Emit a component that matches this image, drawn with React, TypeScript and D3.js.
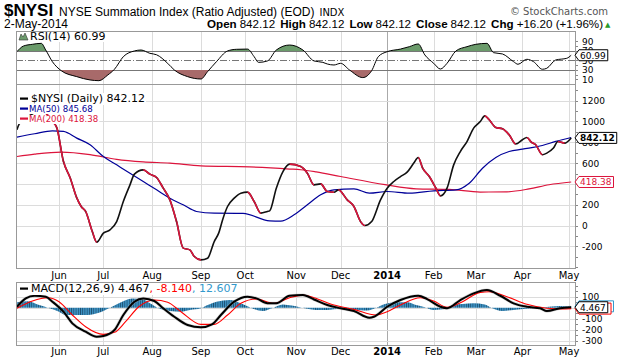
import React, { useEffect, useRef } from "react";
import * as d3 from "d3";

const width = 620,
  height = 360;

// trading calendar
const firstDay = "2013-05-06";
const lastDay = "2014-05-02";
const holidays = ["2013-05-27", "2013-07-04", "2013-09-02", "2013-11-28", "2013-12-25", "2014-01-01", "2014-01-20", "2014-02-17", "2014-04-18"];
const monthLabels = ["Jun", "Jul", "Aug", "Sep", "Oct", "Nov", "Dec", "2014", "Feb", "Mar", "Apr", "May"];

// $NYSI close (colored: black up, red down)
const nysiDates = ["2013-05-06", "2013-05-07", "2013-05-14", "2013-05-21", "2013-05-23", "2013-05-29", "2013-05-31", "2013-06-05", "2013-06-10", "2013-06-13", "2013-06-17", "2013-06-19", "2013-06-24", "2013-06-26", "2013-07-01", "2013-07-05", "2013-07-10", "2013-07-15", "2013-07-18", "2013-07-22", "2013-07-26", "2013-07-31", "2013-08-05", "2013-08-08", "2013-08-13", "2013-08-16", "2013-08-21", "2013-08-26", "2013-08-28", "2013-09-03", "2013-09-06", "2013-09-11", "2013-09-13", "2013-09-17", "2013-09-19", "2013-09-24", "2013-09-27", "2013-10-02", "2013-10-07", "2013-10-10", "2013-10-15", "2013-10-16", "2013-10-21", "2013-10-24", "2013-10-29", "2013-11-05", "2013-11-08", "2013-11-13", "2013-11-18", "2013-11-21", "2013-11-26", "2013-11-29", "2013-12-05", "2013-12-10", "2013-12-13", "2013-12-17", "2013-12-20", "2013-12-27", "2014-01-02", "2014-01-07", "2014-01-10", "2014-01-15", "2014-01-21", "2014-01-23", "2014-01-27", "2014-01-30", "2014-02-04", "2014-02-06", "2014-02-11", "2014-02-14", "2014-02-20", "2014-02-25", "2014-02-28", "2014-03-05", "2014-03-07", "2014-03-11", "2014-03-14", "2014-03-19", "2014-03-24", "2014-03-27", "2014-04-01", "2014-04-03", "2014-04-07", "2014-04-09", "2014-04-14", "2014-04-16", "2014-04-22", "2014-04-24", "2014-04-29", "2014-05-02"];
const nysiValues = [920, 975, 1060, 1100, 1080, 1000, 940, 615, 460, 266, 183, 135, -58, -160, -73, -41, 38, 231, 391, 494, 535, 494, 462, 359, 247, 38, -217, -234, -298, -330, -314, -154, -73, 71, 183, 263, 311, 321, 231, 119, 135, 141, 359, 519, 590, 567, 503, 391, 400, 327, 320, 343, 247, 183, 38, 0, 38, 247, 359, 423, 470, 513, 600, 654, 551, 471, 359, 285, 359, 583, 711, 807, 936, 1000, 1054, 1016, 942, 930, 872, 783, 824, 846, 802, 776, 680, 696, 744, 808, 792, 842.12];

const ma50Dates = ["2013-05-06", "2013-05-16", "2013-05-29", "2013-06-05", "2013-06-13", "2013-06-21", "2013-07-01", "2013-07-10", "2013-07-18", "2013-07-26", "2013-08-05", "2013-08-13", "2013-08-21", "2013-08-29", "2013-09-11", "2013-09-30", "2013-10-16", "2013-10-23", "2013-10-31", "2013-11-08", "2013-11-18", "2013-11-26", "2013-12-10", "2013-12-19", "2014-01-02", "2014-01-16", "2014-02-03", "2014-02-18", "2014-02-26", "2014-03-06", "2014-03-14", "2014-03-24", "2014-04-01", "2014-04-14", "2014-04-23", "2014-05-02"];
const ma50Values = [850, 882, 910, 904, 840, 776, 663, 583, 503, 423, 343, 263, 199, 135, 119, 117, 45, 43, 103, 199, 295, 343, 353, 311, 327, 311, 333, 343, 407, 551, 654, 711, 734, 769, 808, 845.68];

const ma200Dates = ["2013-05-06", "2013-05-16", "2013-06-04", "2013-06-21", "2013-07-10", "2013-07-26", "2013-08-13", "2013-09-03", "2013-10-03", "2013-10-29", "2013-11-05", "2013-11-14", "2013-12-02", "2013-12-31", "2014-01-22", "2014-02-12", "2014-03-05", "2014-03-21", "2014-04-04", "2014-04-17", "2014-05-02"];
const ma200Values = [663, 686, 706, 682, 636, 612, 600, 573, 563, 543, 536, 515, 471, 393, 353, 347, 322, 324, 352, 392, 418.38];

const rsiDates = ["2013-05-06", "2013-05-09", "2013-05-15", "2013-05-21", "2013-05-23", "2013-05-29", "2013-06-04", "2013-06-13", "2013-06-21", "2013-06-27", "2013-07-03", "2013-07-09", "2013-07-15", "2013-07-22", "2013-07-25", "2013-07-31", "2013-08-05", "2013-08-12", "2013-08-15", "2013-08-23", "2013-09-03", "2013-09-06", "2013-09-12", "2013-09-19", "2013-09-25", "2013-10-02", "2013-10-07", "2013-10-09", "2013-10-15", "2013-10-21", "2013-10-29", "2013-11-06", "2013-11-13", "2013-11-19", "2013-11-21", "2013-11-26", "2013-12-02", "2013-12-06", "2013-12-16", "2013-12-20", "2013-12-26", "2014-01-02", "2014-01-10", "2014-01-16", "2014-01-23", "2014-01-28", "2014-02-03", "2014-02-06", "2014-02-11", "2014-02-18", "2014-02-25", "2014-03-03", "2014-03-10", "2014-03-13", "2014-03-19", "2014-03-26", "2014-03-28", "2014-04-03", "2014-04-08", "2014-04-14", "2014-04-16", "2014-04-23", "2014-04-30", "2014-05-02"];
const rsiValues = [68.5, 80.5, 84, 86, 72, 47.5, 28.5, 16, 9, 7.5, 19.5, 31.5, 58, 70, 72, 65, 62, 44, 30, 16, 11, 26.5, 47.5, 70, 73.5, 74, 58, 46, 49, 72, 82.5, 72, 49, 46, 42.6, 40.5, 44, 30, 14, 28.5, 58, 68.5, 74, 79, 84.7, 61.6, 44, 32, 44, 70, 79, 84, 86, 66.4, 63.7, 47.5, 42, 52.5, 47.5, 31.5, 33.6, 51, 54.6, 60.99];

const macdDates = ["2013-05-06", "2013-05-10", "2013-05-16", "2013-05-23", "2013-05-29", "2013-06-05", "2013-06-11", "2013-06-19", "2013-06-26", "2013-07-01", "2013-07-09", "2013-07-15", "2013-07-22", "2013-07-26", "2013-08-02", "2013-08-08", "2013-08-15", "2013-08-23", "2013-09-03", "2013-09-10", "2013-09-16", "2013-09-24", "2013-10-02", "2013-10-08", "2013-10-15", "2013-10-21", "2013-10-29", "2013-11-06", "2013-11-13", "2013-11-21", "2013-12-02", "2013-12-10", "2013-12-19", "2013-12-23", "2014-01-02", "2014-01-10", "2014-01-23", "2014-01-29", "2014-02-06", "2014-02-11", "2014-02-20", "2014-02-28", "2014-03-10", "2014-03-18", "2014-03-26", "2014-04-03", "2014-04-11", "2014-04-16", "2014-04-25", "2014-05-02"];
const macdValues = [9, 85, 109, 100, 55, -36, -142, -218, -264, -257, -203, -66, 55, 85, 61, -5, -82, -157, -178, -151, -66, 55, 100, 85, 40, 40, 109, 115, 75, 25, -5, -30, -91, -82, 9, 70, 109, 79, 9, -5, 70, 131, 161, 109, 40, 9, -5, -30, -5, 4.467];

const signalDates = ["2013-05-06", "2013-05-15", "2013-05-24", "2013-06-03", "2013-06-11", "2013-06-19", "2013-07-01", "2013-07-09", "2013-07-16", "2013-07-24", "2013-08-02", "2013-08-12", "2013-08-20", "2013-09-03", "2013-09-11", "2013-09-19", "2013-09-27", "2013-10-08", "2013-10-18", "2013-10-29", "2013-11-06", "2013-11-13", "2013-11-26", "2013-12-10", "2013-12-24", "2014-01-02", "2014-01-10", "2014-01-24", "2014-02-03", "2014-02-11", "2014-02-21", "2014-03-05", "2014-03-11", "2014-03-21", "2014-04-03", "2014-04-16", "2014-04-28", "2014-05-02"];
const signalValues = [-5, 61, 91, 55, -66, -173, -242, -224, -127, 9, 70, 49, -36, -151, -151, -66, 40, 79, 40, 91, 115, 91, 25, -15, -66, -36, 25, 91, 61, 4, 55, 140, 145, 100, 31, -5, -12, -8.14];

const histDates = ["2013-05-06", "2013-05-13", "2013-05-20", "2013-05-24", "2013-06-03", "2013-06-06", "2013-06-13", "2013-06-20", "2013-06-27", "2013-07-05", "2013-07-11", "2013-07-19", "2013-07-26", "2013-07-31", "2013-08-06", "2013-08-13", "2013-08-20", "2013-08-26", "2013-09-03", "2013-09-06", "2013-09-12", "2013-09-20", "2013-09-27", "2013-10-04", "2013-10-11", "2013-10-17", "2013-10-24", "2013-10-30", "2013-11-08", "2013-11-14", "2013-11-21", "2013-12-02", "2013-12-10", "2013-12-18", "2013-12-24", "2013-12-31", "2014-01-08", "2014-01-15", "2014-01-22", "2014-01-28", "2014-02-03", "2014-02-11", "2014-02-14", "2014-02-21", "2014-02-28", "2014-03-07", "2014-03-12", "2014-03-19", "2014-03-26", "2014-04-03", "2014-04-11", "2014-04-17", "2014-04-25", "2014-05-02"];
const histValues = [50, 60, 24, 0, -36, -66, -66, -66, -45, 0, 40, 85, 75, 40, -5, -30, -36, -20, -5, 24, 55, 70, 40, -5, -30, -5, 30, 20, -10, -20, -20, -10, -15, -25, 0, 35, 50, 50, 25, 5, -20, -10, 25, 35, 40, 30, 0, -30, -20, -10, 0, 9, 15, 12.607];

// axis labels (400 and 0 sit under the value tags, so they are not shown)
const priceTicks = [1200, 1000, 800, 600, 400, 200, 0, -200];
const priceLabels = [1200, 1000, 800, 600, 200, 0, -200];
const rsiTicks = [90, 70, 50, 30, 10];
const macdTicks = [100, 0, -100, -200, -300];
const macdLabels = [100, -100, -200, -300];

const quote = { open: "842.12", high: "842.12", low: "842.12", close: "842.12", chg: "+16.20 (+1.96%)" };

const L = 16,
  R = 576;
const rsiP = { top: 31, bottom: 84 };
const mainP = { top: 84, bottom: 268 };
const macdP = { top: 282, bottom: 345 };

const NAVY = "#000099",
  CRIMSON = "#dc143c",
  GRID = "#dcdcdc",
  BORDER = "#999";
const VF = "'DejaVu Sans', Verdana, sans-serif";
const AF = "'Liberation Sans', Arial, sans-serif";

function App() {
  const ref = useRef<SVGSVGElement>(null);

  useEffect(() => {
    const svg = d3.select(ref.current);
    svg.selectAll("*").remove();

    const fmt = d3.utcFormat("%Y-%m-%d");
    const parse = d3.utcParse("%Y-%m-%d");
    const days = d3
      .utcDays(parse(firstDay)!, d3.utcDay.offset(parse(lastDay)!, 1))
      .filter(d => d.getUTCDay() !== 0 && d.getUTCDay() !== 6 && !holidays.includes(fmt(d)));
    const dayIndex = new Map(days.map((d, i) => [fmt(d), i]));
    const idx = (s: string) => {
      if (dayIndex.has(s)) return dayIndex.get(s)!;
      return d3.bisector((d: Date) => d).left(days, parse(s)!);
    };
    const series = (ds: string[], vs: number[]) => ds.map((d, k) => ({ i: idx(d), v: vs[k] }));

    const monthStarts = days
      .map((d, i) => ({ d, i }))
      .filter(({ d, i }) => i > 0 && d.getUTCMonth() !== days[i - 1].getUTCMonth())
      .map(({ i }, k) => ({ i, label: monthLabels[k] }));

    const x = d3.scaleLinear().domain([0, days.length - 1]).range([16.9, 571.2]);
    const yMain = d3.scaleLinear().domain([-408, 1360]).range([mainP.bottom, mainP.top]);
    const yRsi = d3.scaleLinear().domain([0.5, 112]).range([rsiP.bottom, rsiP.top]);
    const yMacd = d3.scaleLinear().domain([-339, 234]).range([macdP.bottom, macdP.top]);

    svg.append("rect").attr("width", width).attr("height", height).attr("fill", "#fff");
    const defs = svg.append("defs");

    // ---------- header ----------
    const head = svg.append("g");
    head.append("text").attr("x", 4).attr("y", 16).attr("font-family", AF).attr("font-weight", "bold").attr("font-size", 17).attr("fill", "#000").text("$NYSI");
    const t1 = head.append("text").attr("x", 59).attr("y", 16).attr("font-family", AF).attr("font-size", 12).attr("fill", "#000");
    t1.append("tspan").text("NYSE Summation Index (Ratio Adjusted) (EOD)");
    t1.append("tspan").attr("dx", 5).attr("font-family", VF).attr("font-size", 10).text("INDX");
    head.append("text").attr("x", 608).attr("y", 15).attr("text-anchor", "end").attr("font-family", VF).attr("font-size", 10).attr("fill", "#555").text("\u00a9 StockCharts.com");
    head.append("text").attr("x", 4).attr("y", 28).attr("font-family", AF).attr("font-size", 12).attr("fill", "#000").text("2-May-2014");
    const q = head.append("text").attr("x", 603).attr("y", 28).attr("text-anchor", "end").attr("font-family", AF).attr("font-size", 11.6).attr("fill", "#000");
    [["Open", quote.open], ["High", quote.high], ["Low", quote.low], ["Close", quote.close], ["Chg", quote.chg]].forEach(([k, v], n) => {
      q.append("tspan").attr("font-weight", "bold").attr("dx", n ? 5 : 0).text(k);
      q.append("tspan").attr("dx", 3).text(v);
    });
    head.append("text").attr("x", 605).attr("y", 27).attr("font-size", 7).attr("fill", "#2a9a2a").attr("font-family", VF).text("\u25b2");

    // ---------- grids ----------
    const panels = [rsiP, mainP, macdP];
    panels.forEach(p => {
      svg
        .append("g")
        .selectAll("line")
        .data(monthStarts)
        .join("line")
        .attr("x1", d => Math.round(x(d.i)) + 0.5)
        .attr("x2", d => Math.round(x(d.i)) + 0.5)
        .attr("y1", p.top)
        .attr("y2", p.bottom)
        .attr("stroke", d => (d.label === "2014" ? "#aaa" : GRID))
        .attr("stroke-width", 1);
    });

    const hGrid = (scale: d3.ScaleLinear<number, number>, vals: number[]) =>
      svg
        .append("g")
        .selectAll("line")
        .data(vals)
        .join("line")
        .attr("x1", L)
        .attr("x2", R)
        .attr("y1", d => Math.round(scale(d)) + 0.5)
        .attr("y2", d => Math.round(scale(d)) + 0.5)
        .attr("stroke", GRID);
    hGrid(yMain, priceTicks);
    hGrid(yMacd, macdTicks);
    // RSI guide lines
    [70, 30].forEach(v =>
      svg.append("line").attr("x1", L).attr("x2", R).attr("y1", Math.round(yRsi(v)) + 0.5).attr("y2", Math.round(yRsi(v)) + 0.5).attr("stroke", "#777")
    );
    svg.append("line").attr("x1", L).attr("x2", R).attr("y1", Math.round(yRsi(50)) + 0.5).attr("y2", Math.round(yRsi(50)) + 0.5).attr("stroke", "#777").attr("stroke-dasharray", "7,2,1,2");

    // ---------- RSI ----------
    const rsi = series(rsiDates, rsiValues);
    defs.append("clipPath").attr("id", "rsiHi").append("rect").attr("x", L).attr("y", rsiP.top).attr("width", R - L).attr("height", yRsi(70) - rsiP.top);
    defs.append("clipPath").attr("id", "rsiLo").append("rect").attr("x", L).attr("y", yRsi(30)).attr("width", R - L).attr("height", rsiP.bottom - yRsi(30));
    const rsiArea = (lvl: number) =>
      d3
        .area<{ i: number; v: number }>()
        .x(d => x(d.i))
        .y0(yRsi(lvl))
        .y1(d => yRsi(d.v))
        .curve(d3.curveMonotoneX);
    svg.append("path").attr("d", rsiArea(70)(rsi)).attr("fill", "#6b9b6b").attr("clip-path", "url(#rsiHi)");
    svg.append("path").attr("d", rsiArea(30)(rsi)).attr("fill", "#a86a6a").attr("clip-path", "url(#rsiLo)");
    const rsiLine = d3
      .line<{ i: number; v: number }>()
      .x(d => x(d.i))
      .y(d => yRsi(d.v))
      .curve(d3.curveMonotoneX);
    svg.append("path").attr("d", rsiLine(rsi)).attr("fill", "none").attr("stroke", "#000").attr("stroke-width", 1);

    // ---------- main ----------
    const mainLine = d3
      .line<{ i: number; v: number }>()
      .x(d => x(d.i))
      .y(d => yMain(d.v))
      .curve(d3.curveMonotoneX);
    const ma200 = series(ma200Dates, ma200Values);
    const ma50 = series(ma50Dates, ma50Values);
    const nysi = series(nysiDates, nysiValues);
    svg.append("path").attr("d", mainLine(ma200)).attr("fill", "none").attr("stroke", CRIMSON).attr("stroke-width", 1.2);
    svg.append("path").attr("d", mainLine(ma50)).attr("fill", "none").attr("stroke", NAVY).attr("stroke-width", 1.2);

    const falling = defs.append("clipPath").attr("id", "falling");
    falling
      .selectAll("rect")
      .data(d3.pairs(nysi).filter(([a, b]) => b.v < a.v))
      .join("rect")
      .attr("x", ([a]) => x(a.i))
      .attr("width", ([a, b]) => x(b.i) - x(a.i))
      .attr("y", mainP.top)
      .attr("height", mainP.bottom - mainP.top);
    svg.append("path").attr("d", mainLine(nysi)).attr("fill", "none").attr("stroke", "#111").attr("stroke-width", 1.6);
    svg.append("path").attr("d", mainLine(nysi)).attr("fill", "none").attr("stroke", CRIMSON).attr("stroke-width", 1.6).attr("clip-path", "url(#falling)");

    // ---------- MACD ----------
    const step = x(1) - x(0);
    const pat = defs
      .append("pattern")
      .attr("id", "histPat")
      .attr("patternUnits", "userSpaceOnUse")
      .attr("x", x(0) - step / 2)
      .attr("y", 0)
      .attr("width", step)
      .attr("height", 20);
    pat.append("rect").attr("width", step).attr("height", 20).attr("fill", "#3f93c4");
    pat.append("line").attr("x1", 0.4).attr("x2", 0.4).attr("y1", 0).attr("y2", 20).attr("stroke", "#1b4f70").attr("stroke-width", 0.8);
    const hist = series(histDates, histValues);
    svg
      .append("path")
      .attr(
        "d",
        d3
          .area<{ i: number; v: number }>()
          .x(d => x(d.i))
          .y0(yMacd(0))
          .y1(d => yMacd(d.v))
          .curve(d3.curveMonotoneX)(hist)
      )
      .attr("fill", "url(#histPat)");
    const macdLine = d3
      .line<{ i: number; v: number }>()
      .x(d => x(d.i))
      .y(d => yMacd(d.v))
      .curve(d3.curveMonotoneX);
    const macd = series(macdDates, macdValues);
    svg.append("path").attr("d", macdLine(macd)).attr("fill", "none").attr("stroke", "#aaa").attr("stroke-width", 3.2).attr("stroke-opacity", 0.5);
    svg.append("path").attr("d", macdLine(series(signalDates, signalValues))).attr("fill", "none").attr("stroke", "#ff0000").attr("stroke-width", 1.1);
    svg.append("path").attr("d", macdLine(macd)).attr("fill", "none").attr("stroke", "#000").attr("stroke-width", 2);

    // ---------- frames ----------
    panels.forEach(p => {
      svg.append("rect").attr("x", L + 0.5).attr("y", p.top + 0.5).attr("width", R - L - 1).attr("height", p.bottom - p.top).attr("fill", "none").attr("stroke", BORDER);
    });

    // right axes
    const rightAxis = (scale: d3.ScaleLinear<number, number>, ticks: number[]) => {
      svg
        .append("g")
        .attr("font-family", VF)
        .attr("font-size", 9)
        .attr("fill", "#000")
        .selectAll("text")
        .data(ticks)
        .join("text")
        .attr("x", 582)
        .attr("y", d => scale(d) + 3.5)
        .text(d => String(d));
    };
    const minor = (scale: d3.ScaleLinear<number, number>, vals: number[]) =>
      svg
        .append("g")
        .selectAll("line")
        .data(vals)
        .join("line")
        .attr("x1", R)
        .attr("x2", R + 2)
        .attr("y1", d => Math.round(scale(d)) + 0.5)
        .attr("y2", d => Math.round(scale(d)) + 0.5)
        .attr("stroke", "#888");
    minor(yMain, d3.range(-400, 1400, 100));
    minor(yRsi, d3.range(10, 100, 10));
    minor(yMacd, d3.range(-300, 201, 50));
    rightAxis(yMain, priceLabels);
    rightAxis(yRsi, rsiTicks);
    rightAxis(yMacd, macdLabels);

    // x axis labels
    [279, 355].forEach(yy => {
      svg
        .append("g")
        .attr("font-family", VF)
        .attr("font-size", 10)
        .attr("text-anchor", "middle")
        .selectAll("text")
        .data(monthStarts)
        .join("text")
        .attr("x", d => x(d.i))
        .attr("y", yy)
        .attr("font-weight", d => (d.label === "2014" ? "bold" : "normal"))
        .text(d => d.label);
    });

    // value tags on right; tags fully covered by another one keep only their box
    const tag = (yy: number, label: string, color: string, bold = false, showText = true) => {
      const g = svg.append("g");
      const t = g
        .append("text")
        .attr("x", 580)
        .attr("y", yy + 3.5)
        .attr("font-family", VF)
        .attr("font-size", 9)
        .attr("font-weight", bold ? "bold" : "normal")
        .attr("fill", color === "#000" ? "#000" : color)
        .text(label);
      const w = (t.node() as SVGTextElement).getComputedTextLength();
      if (!showText) t.remove();
      const r = 580 + w + 2;
      g.insert("path", ":first-child")
        .attr("d", `M${R - 1},${yy} L${R + 3},${yy - 5.5} H${r} V${yy + 5.5} H${R + 3} Z`)
        .attr("fill", "#fff")
        .attr("stroke", color)
        .attr("stroke-width", 1);
    };
    tag(yMain(418.38), "418.38", CRIMSON);
    tag(yMain(842.12), "842.12", "#000", true);
    tag(yRsi(60.99), "60.99", "#000");
    tag(yMacd(12.607), "12.607", "#3399cc", false, false);
    tag(yMacd(-8.14), "-8.140", "#ff0000", false, false);
    tag(yMacd(4.467), "4.467", "#000");

    // legends with white backing
    const legendLine = (xx: number, yy: number, color: string, parts: [string, string][], fontSize = 11) => {
      const g = svg.append("g");
      const t = g.append("text").attr("x", xx).attr("y", yy).attr("font-family", VF).attr("font-size", fontSize);
      parts.forEach(([s, c]) => t.append("tspan").attr("fill", c).text(s));
      const bb = (t.node() as SVGTextElement).getBBox();
      g.insert("rect", "text")
        .attr("x", 17)
        .attr("y", bb.y + 1)
        .attr("width", bb.x + bb.width - 17 + 1)
        .attr("height", bb.height - 1)
        .attr("fill", "#fff");
      g.append("rect").attr("x", 20).attr("y", yy - 4.5).attr("width", 8).attr("height", 2.2).attr("fill", color);
    };
    legendLine(31, 102, "#000", [["$NYSI (Daily) 842.12", "#000"]]);
    legendLine(29, 112, NAVY, [["MA(50) 845.68", NAVY]], 8.6);
    legendLine(29, 122, CRIMSON, [["MA(200) 418.38", CRIMSON]], 8.6);
    legendLine(31, 292, "#000", [["MACD(12,26,9) 4.467", "#000"], [", -8.140", "#ff0000"], [", 12.607", "#3399cc"]]);

    // RSI label with small icon
    const rl = svg.append("g");
    const rt = rl.append("text").attr("x", 30).attr("y", 40).attr("font-family", VF).attr("font-size", 11).attr("fill", "#000").text("RSI(14) 60.99");
    const rb = (rt.node() as SVGTextElement).getBBox();
    rl.insert("rect", "text").attr("x", 18).attr("y", rsiP.top + 1).attr("width", rb.x + rb.width - 18 + 1).attr("height", 10).attr("fill", "#fff");
    rl.append("path").attr("d", "M19,40 L21,34 L23,37 L25,33 L28,40 Z").attr("fill", "#6b9b6b").attr("stroke", "#333").attr("stroke-width", 0.6);
  }, []);

  return <svg ref={ref} width={width} height={height} style={{ position: "absolute", left: 0, top: 0, display: "block" }} />;
}

export default App;
